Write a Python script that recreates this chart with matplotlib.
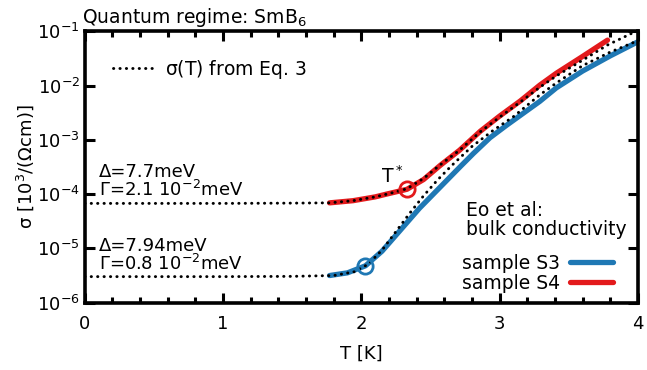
import numpy as np
import matplotlib
matplotlib.use('Agg')
import matplotlib.pyplot as plt
from matplotlib.ticker import MultipleLocator, LogLocator, NullLocator

plt.rcParams['font.family'] = ['DejaVu Sans']
plt.rcParams['mathtext.default'] = 'regular'

# sample S4 (red): T [K], log10(sigma)
T_s4 = [1.77, 1.94, 2.10, 2.18, 2.33, 2.45, 2.57, 2.71, 2.86, 3.00, 3.15, 3.29, 3.41, 3.60, 3.78]
lg_s4 = [-4.16, -4.12, -4.05, -4.00, -3.91, -3.73, -3.47, -3.19, -2.84, -2.56, -2.28, -1.99, -1.77, -1.46, -1.16]

# sample S3 (blue)
T_s3 = [1.77, 1.90, 2.03, 2.15, 2.28, 2.42, 2.52, 2.62, 2.72, 2.81, 2.93, 3.05, 3.17, 3.29, 3.41, 3.60, 3.80, 4.00]
lg_s3 = [-5.50, -5.45, -5.32, -5.05, -4.67, -4.26, -4.00, -3.74, -3.48, -3.25, -2.96, -2.73, -2.51, -2.29, -2.04, -1.73, -1.45, -1.19]

# sigma(T) from Eq. 3, dotted
T_fit4 = [0.0, 1.0, 1.5, 1.77, 1.94, 2.10, 2.20, 2.33, 2.45, 2.57, 2.71, 2.86, 3.00, 3.15, 3.29, 3.41, 3.60, 3.78, 4.00]
lg_fit4 = [-4.17, -4.17, -4.165, -4.16, -4.12, -4.05, -3.99, -3.90, -3.71, -3.46, -3.19, -2.85, -2.58, -2.30, -2.03, -1.82, -1.53, -1.25, -0.98]
T_fit3 = [0.0, 1.0, 1.5, 1.80, 1.95, 2.05, 2.15, 2.25, 2.35, 2.45, 2.55, 2.65, 2.80, 2.95, 3.10, 3.29, 3.41, 3.60, 3.80, 4.00]
lg_fit3 = [-5.52, -5.52, -5.515, -5.50, -5.43, -5.29, -5.03, -4.69, -4.35, -4.03, -3.74, -3.48, -3.12, -2.83, -2.57, -2.17, -1.95, -1.63, -1.38, -1.17]

# T* points
Tstar = [2.03, 2.33]
lg_star = [-5.32, -3.91]

blue = '#1f78b4'
red = '#e31a1c'
dots = dict(color='black', lw=2.1, ls=(0, (0.1, 2.1)), dash_capstyle='round', zorder=4)

fig = plt.figure(figsize=(6.47, 3.70), dpi=100)
ax = fig.add_axes([0.131, 0.182, 0.855, 0.733])

ax.plot(T_s3, np.power(10.0, lg_s3), color=blue, lw=3.8, solid_capstyle='round', label='sample S3')
ax.plot(T_s4, np.power(10.0, lg_s4), color=red, lw=3.8, solid_capstyle='round', label='sample S4')
dot, = ax.plot(T_fit4, np.power(10.0, lg_fit4), label=r'$\sigma$(T) from Eq. 3', **dots)
ax.plot(T_fit3, np.power(10.0, lg_fit3), **dots)
ax.plot(Tstar[0], 10**lg_star[0], 'o', mfc='none', mec=blue, ms=11, mew=2, zorder=5)
ax.plot(Tstar[1], 10**lg_star[1], 'o', mfc='none', mec=red, ms=11, mew=2, zorder=5)

ax.set_yscale('log')
ax.set_xlim(0, 4)
ax.set_ylim(1e-6, 1e-1)
ax.xaxis.set_major_locator(MultipleLocator(1))
ax.xaxis.set_minor_locator(MultipleLocator(0.2))
ax.yaxis.set_major_locator(LogLocator(base=10, numticks=10))
ax.yaxis.set_minor_locator(NullLocator())
ax.tick_params(which='both', direction='in', top=True, right=True, labelsize=13, width=2.2)
ax.tick_params(which='major', length=7.5)
ax.tick_params(which='minor', length=4.5)
ax.tick_params(axis='x', pad=9)
for s in ax.spines.values():
    s.set_linewidth(2.6)

ax.set_xlabel('T [K]', fontsize=13, labelpad=8)
ax.set_ylabel(r'$\sigma$ [10$^3$/($\Omega$cm)]', fontsize=13, labelpad=1)
ax.text(-0.005, 1.01, r'Quantum regime: SmB$_6$', transform=ax.transAxes, fontsize=13.5, ha='left', va='bottom')

ax.text(0.105, 1.7e-4, 'Δ=7.7meV\nΓ=2.1 10$^{-2}$meV', fontsize=13, ha='left', va='center', linespacing=0.95)
ax.text(0.105, 7.5e-6, 'Δ=7.94meV\nΓ=0.8 10$^{-2}$meV', fontsize=13, ha='left', va='center', linespacing=0.95)
ax.text(2.22, 2.1e-4, r'T$^*$', fontsize=13.5, ha='center', va='center')
ax.text(0.69, 0.305, 'Eo et al:\nbulk conductivity', transform=ax.transAxes, fontsize=13.5, ha='left', va='center', linespacing=1.0)

leg1 = ax.legend(handles=[dot], loc='upper left', bbox_to_anchor=(0.02, 0.965), frameon=False,
                 fontsize=13.5, handlelength=2.2, handletextpad=0.6)
ax.add_artist(leg1)
h = ax.get_lines()[:2]
ax.legend(handles=h, loc='lower right', bbox_to_anchor=(0.985, -0.025), frameon=False, fontsize=13.5,
          markerfirst=False, handlelength=2.3, handletextpad=0.5, labelspacing=0.05)

fig.savefig('out.png', dpi=100)
